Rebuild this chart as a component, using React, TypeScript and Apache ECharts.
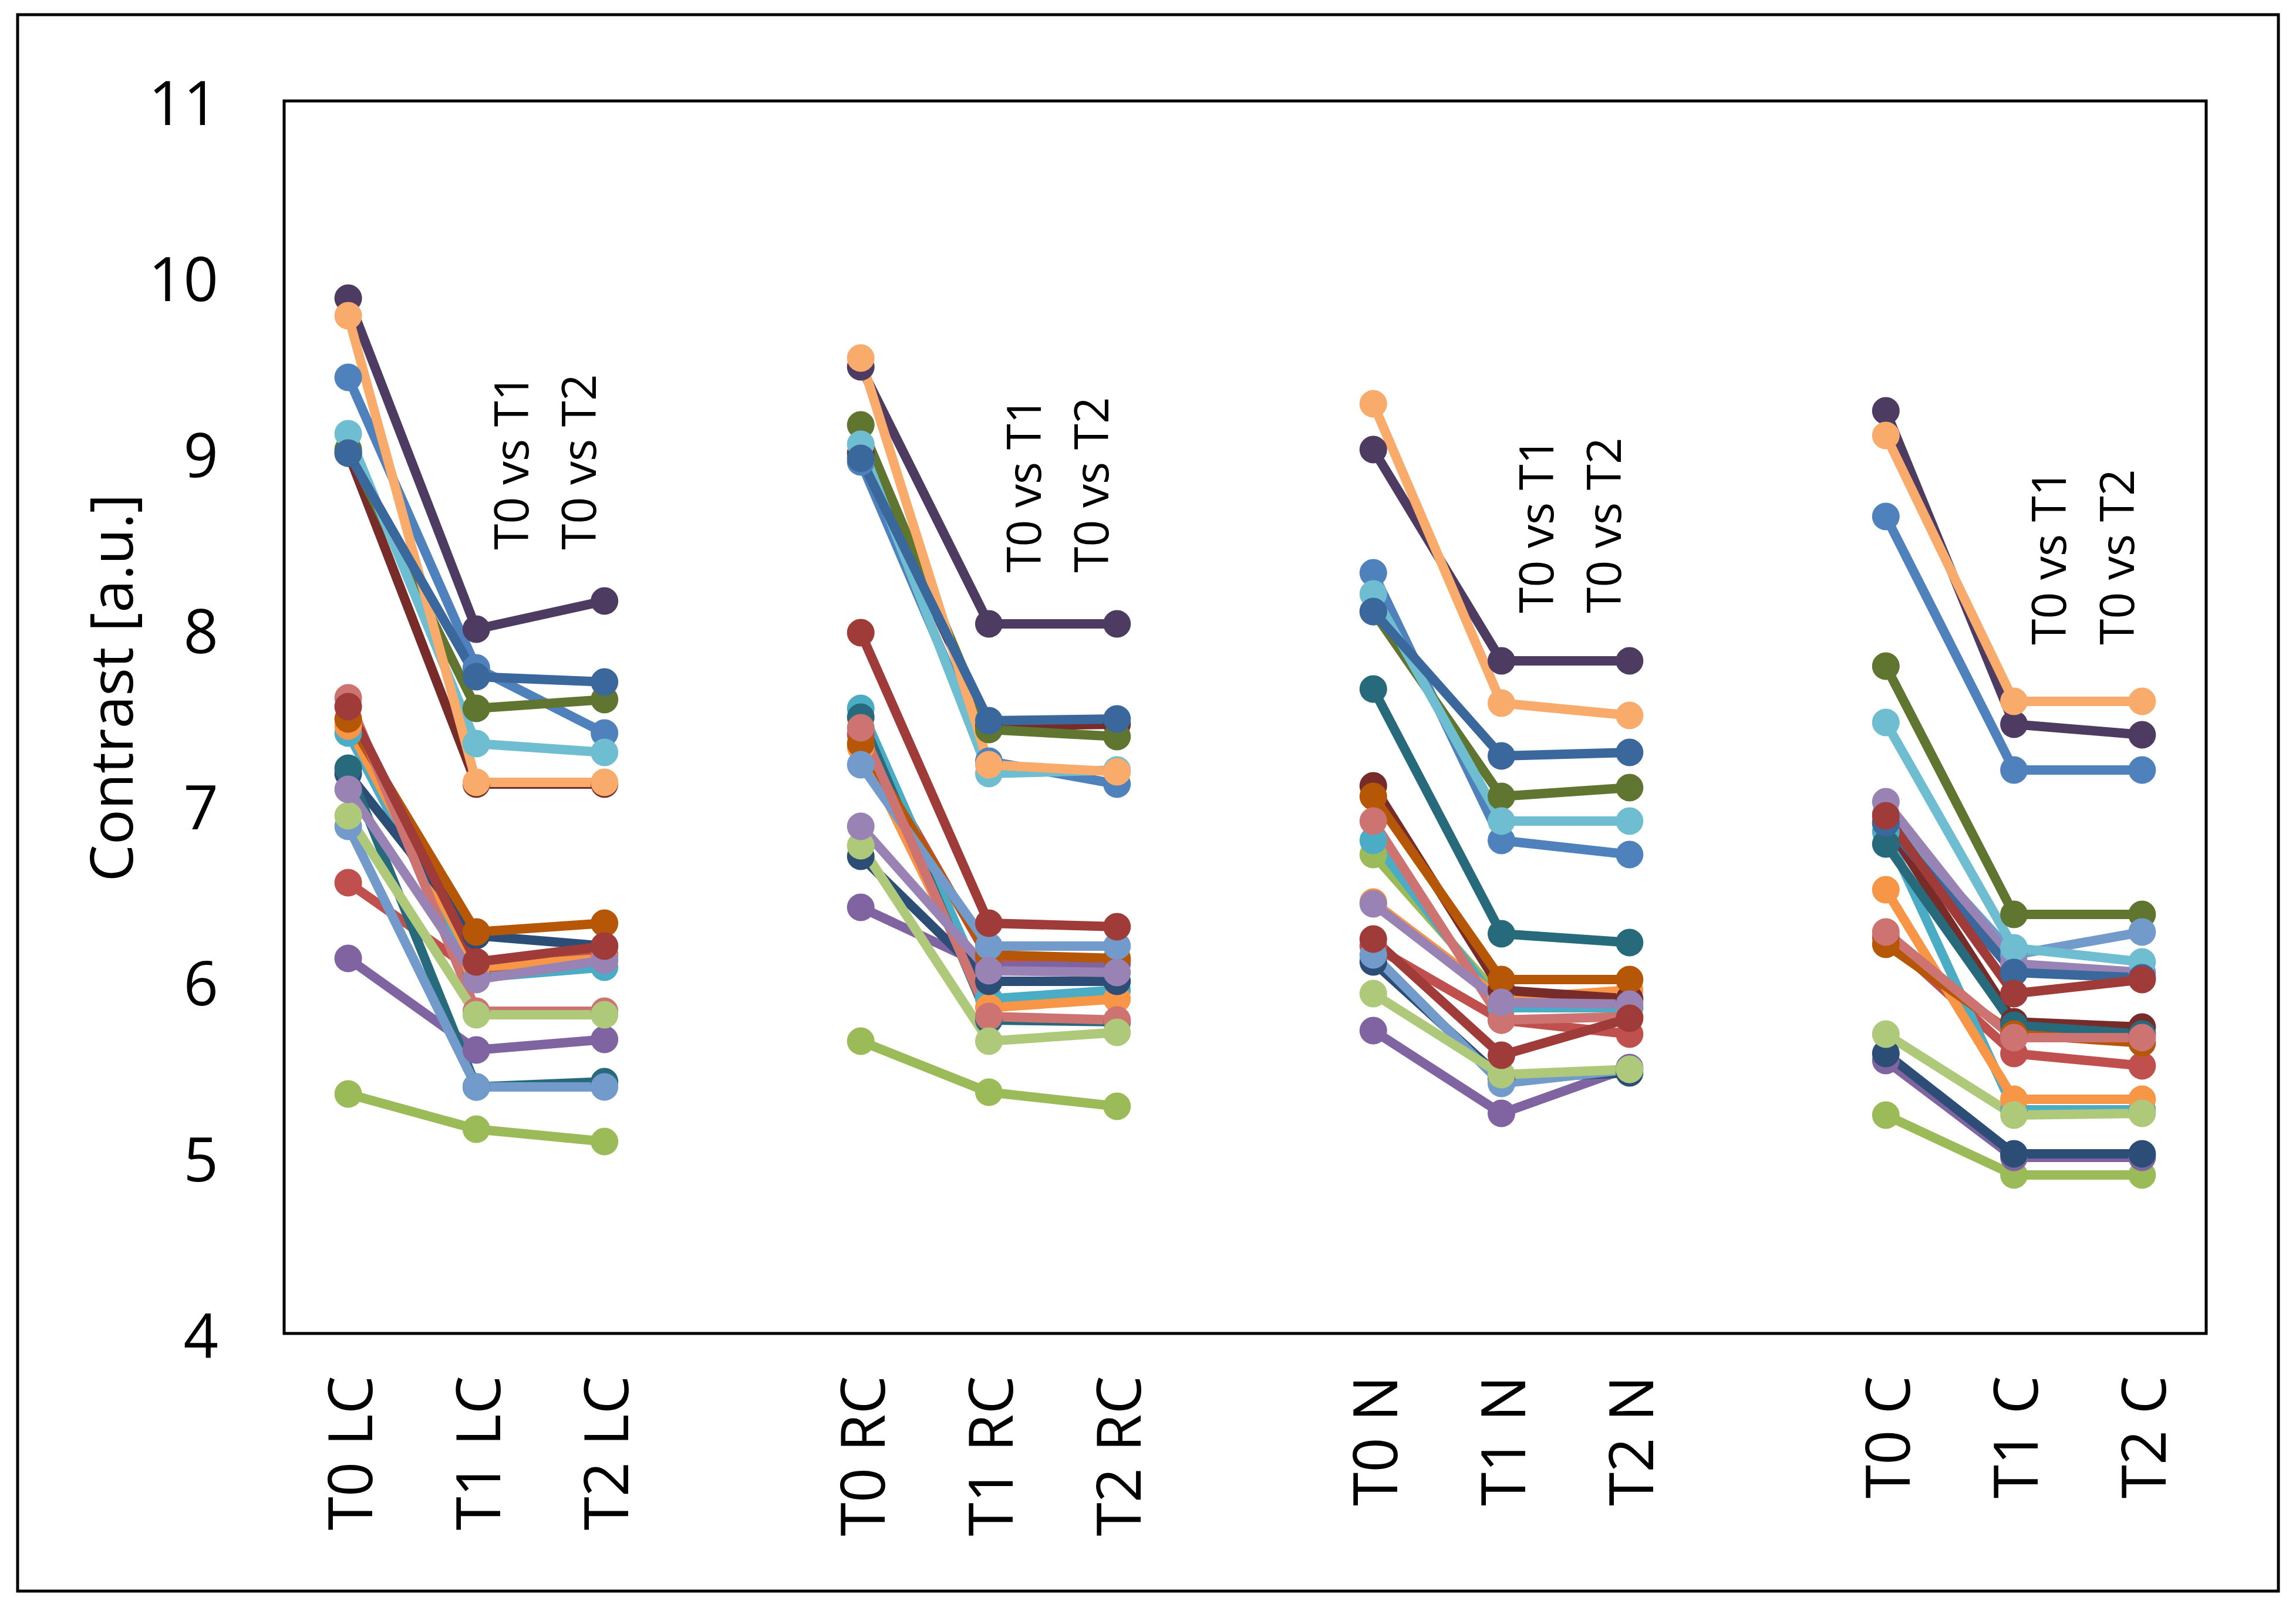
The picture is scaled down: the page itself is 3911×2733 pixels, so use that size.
import React, { useEffect, useRef } from "react";
import * as echarts from "echarts";

const CATEGORIES = ["T0 LC", "T1 LC", "T2 LC", "", "T0 RC", "T1 RC", "T2 RC", "", "T0 N", "T1 N", "T2 N", "", "T0 C", "T1 C", "T2 C"];

const SERIES_COLORS = [
  "#4F81BD", "#C0504D", "#9BBB59", "#8064A2", "#4BACC6", "#F79646",
  "#2C4D75", "#772C2A", "#5F7530", "#4D3B62", "#276A7C", "#B65708",
  "#729ACA", "#CD7371", "#AFC97A", "#9983B5", "#6FBDD1", "#F9AB6B",
  "#3A679C", "#9F3B38",
];

// values per subject (20 subjects), one array per category
const LC_T0 = [9.43, 6.56, 5.36, 6.13, 7.41, 7.45, 7.18, 9.0, 9.02, 9.88, 7.21, 7.49, 6.88, 7.61, 6.94, 7.09, 9.11, 9.78, 9.0, 7.56];
const LC_T1 = [7.78, 6.05, 5.16, 5.61, 6.02, 6.08, 6.26, 7.12, 7.55, 8.0, 5.4, 6.28, 5.4, 5.83, 5.81, 6.01, 7.35, 7.13, 7.73, 6.11];
const LC_T2 = [7.41, 6.15, 5.09, 5.67, 6.08, 6.13, 6.2, 7.12, 7.6, 8.16, 5.43, 6.33, 5.4, 5.83, 5.81, 6.12, 7.3, 7.13, 7.7, 6.2];

const RC_T0 = [8.95, 7.4, 5.66, 6.42, 7.55, 7.33, 6.71, 9.0, 9.16, 9.49, 7.5, 7.35, 7.23, 7.44, 6.77, 6.88, 9.05, 9.54, 8.97, 7.98];
const RC_T1 = [7.25, 6.13, 5.37, 6.08, 5.9, 5.85, 6.0, 7.45, 7.43, 8.03, 5.78, 6.15, 6.2, 5.8, 5.66, 6.06, 7.18, 7.23, 7.48, 6.33];
const RC_T2 = [7.12, 6.12, 5.29, 6.1, 5.95, 5.9, 6.0, 7.46, 7.39, 8.03, 5.77, 6.13, 6.2, 5.78, 5.71, 6.05, 7.2, 7.19, 7.49, 6.31];

const N_T0 = [8.32, 6.2, 6.72, 5.72, 6.8, 6.45, 6.11, 7.11, 8.1, 9.02, 7.66, 7.05, 6.15, 6.91, 5.93, 6.44, 8.2, 9.28, 8.1, 6.24];
const N_T1 = [6.8, 5.78, 5.9, 5.25, 5.85, 5.9, 5.45, 5.95, 7.05, 7.82, 6.27, 6.01, 5.42, 5.78, 5.47, 5.88, 6.91, 7.58, 7.28, 5.58];
const N_T2 = [6.72, 5.7, 5.85, 5.51, 5.85, 5.95, 5.48, 5.9, 7.1, 7.82, 6.22, 6.01, 5.5, 5.8, 5.5, 5.87, 6.91, 7.51, 7.3, 5.79];

const C_T0 = [8.64, 6.25, 5.24, 5.55, 6.85, 6.52, 5.59, 6.9, 7.79, 9.24, 6.78, 6.21, 6.95, 6.28, 5.7, 7.02, 7.47, 9.1, 6.9, 6.94];
const C_T1 = [7.2, 5.59, 4.9, 5.0, 5.27, 5.33, 5.02, 5.77, 6.38, 7.46, 5.75, 5.7, 6.15, 5.68, 5.24, 6.1, 6.19, 7.59, 6.05, 5.93];
const C_T2 = [7.2, 5.52, 4.9, 5.0, 5.27, 5.33, 5.02, 5.74, 6.38, 7.4, 5.7, 5.65, 6.28, 5.68, 5.25, 6.05, 6.11, 7.59, 6.02, 6.01];

const COLUMNS: (number[] | null)[] = [LC_T0, LC_T1, LC_T2, null, RC_T0, RC_T1, RC_T2, null, N_T0, N_T1, N_T2, null, C_T0, C_T1, C_T2];

const ANNOTATION_TEXTS = ["T0 vs T1", "T0 vs T2"];
// comparison labels: placed per group (T1 and T2 category of each group)
const ANNOTATION_GROUP_T1 = [1, 5, 9, 13];
const ANNOTATION_GROUP_LEVEL = [8.95, 8.82, 8.59, 8.41];

const FONT = "Open Sans";

export default function App() {
  const ref = useRef<HTMLDivElement>(null);
  useEffect(() => {
    if (!ref.current) return;
    const chart = echarts.init(ref.current, null, { renderer: "svg" });
    const series = SERIES_COLORS.map((color, s) => ({
      type: "line",
      name: "S" + (s + 1),
      data: COLUMNS.map((col) => (col ? col[s] : null)),
      connectNulls: false,
      symbol: "circle",
      symbolSize: 47,
      showSymbol: true,
      itemStyle: { color },
      lineStyle: { color, width: 16, cap: "round", join: "round" },
      emphasis: { disabled: true },
    }));
    const gridLeft = 484, gridTop = 172, gridRight = 153, gridBottom = 461;
    chart.setOption({
      animation: false,
      backgroundColor: "#ffffff",
      textStyle: { fontFamily: FONT },
      grid: { left: gridLeft, top: gridTop, right: gridRight, bottom: gridBottom, show: true, borderColor: "#000", borderWidth: 5, backgroundColor: "transparent" },
      xAxis: {
        type: "category",
        data: CATEGORIES,
        boundaryGap: true,
        axisLine: { show: false },
        axisTick: { show: false },
        splitLine: { show: false },
        axisLabel: { interval: 0, rotate: 90, fontSize: 104, color: "#000", margin: 72, fontFamily: FONT },
      },
      yAxis: {
        type: "value",
        min: 4,
        max: 11,
        interval: 1,
        axisLine: { show: false },
        axisTick: { show: false },
        splitLine: { show: false },
        axisLabel: { fontSize: 104, color: "#000", margin: 112, fontFamily: FONT },
      },
      series,
    });
    const band = (3911 - gridLeft - gridRight) / CATEGORIES.length;
    const texts: any[] = [];
    ANNOTATION_GROUP_T1.forEach((cat, g) => {
      const p1 = chart.convertToPixel({ gridIndex: 0 } as any, [cat, ANNOTATION_GROUP_LEVEL[g]]) as number[];
      const p2 = chart.convertToPixel({ gridIndex: 0 } as any, [cat + 1, ANNOTATION_GROUP_LEVEL[g]]) as number[];
      [[p1[0] + band * 0.26, p1[1]], [p2[0] - band * 0.21, p2[1]]].forEach((pt, k) => {
        texts.push({
          type: "text",
          x: pt[0],
          y: pt[1],
          rotation: Math.PI / 2,
          style: { text: ANNOTATION_TEXTS[k], fontSize: 80, fill: "#000", align: "center", verticalAlign: "middle", fontFamily: FONT },
          z: 100,
        });
      });
    });
    chart.setOption({
      graphic: [
        { type: "rect", shape: { x: 30, y: 25, width: 3851, height: 2686 }, style: { fill: "none", stroke: "#000", lineWidth: 5 }, z: 100 },
        {
          type: "text",
          x: 187,
          y: 1172,
          rotation: Math.PI / 2,
          style: { text: "Contrast [a.u.]", fontSize: 100, fill: "#000", align: "center", verticalAlign: "middle", fontFamily: FONT },
          z: 100,
        },
        ...texts,
      ],
    });
    return () => chart.dispose();
  }, []);
  return <div ref={ref} style={{ position: "fixed", left: 0, top: 0, width: 3911, height: 2733, background: "#fff" }} />;
}
